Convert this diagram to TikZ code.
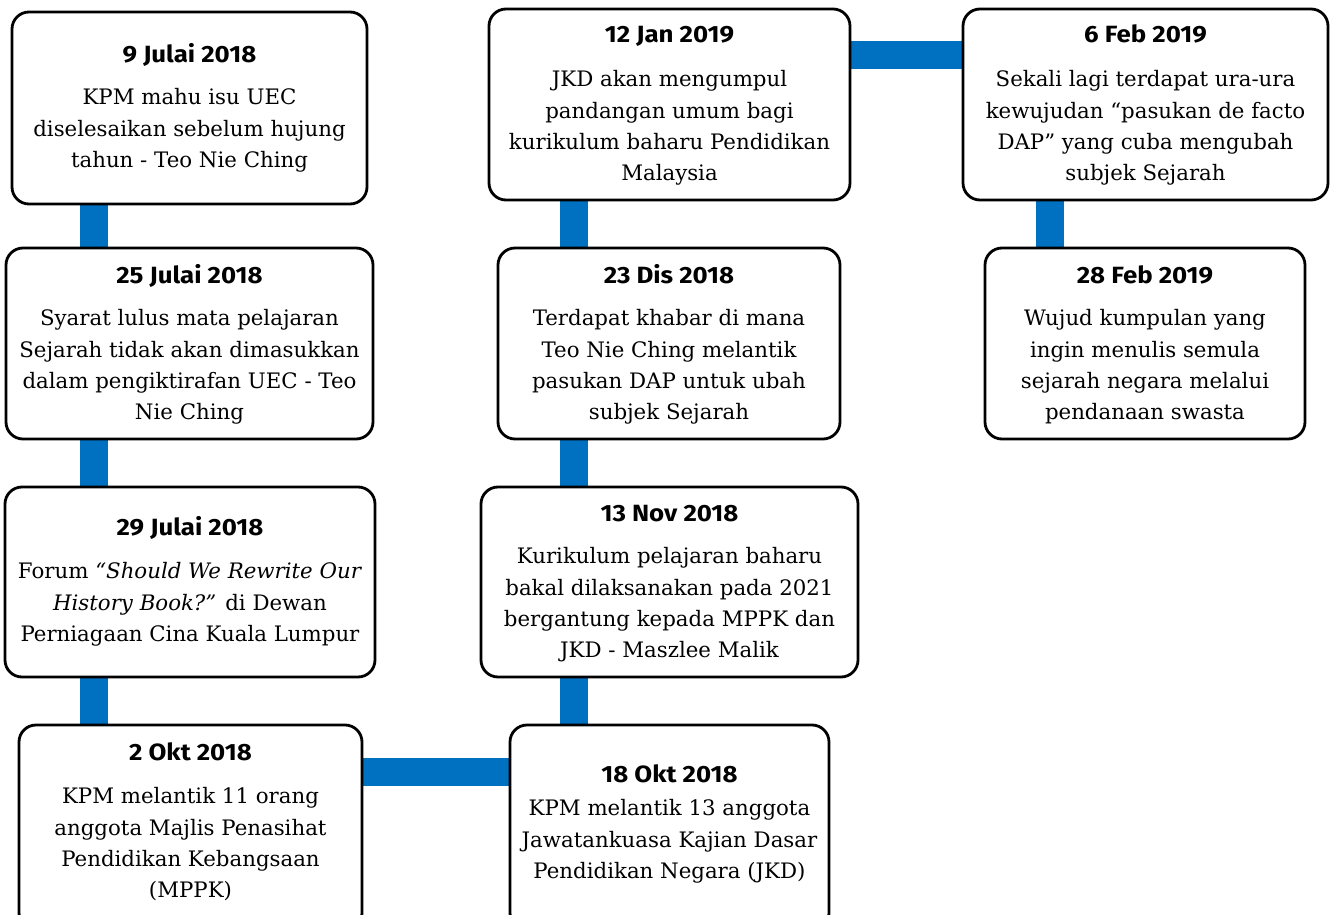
\documentclass[tikz,border=0pt]{standalone}
\usepackage{fontspec}
\setmainfont{DejaVu Serif}
\newfontfamily\titlefont[FakeStretch=1.1]{Fira Sans}
\usetikzlibrary{calc}
\definecolor{connblue}{HTML}{0070C0}
\pgfdeclarelayer{bg}
\pgfsetlayers{bg,main}
\begin{document}
\begin{tikzpicture}[x=1pt,y=-1pt,
  box/.style={draw=black, line width=2.8pt, rounded corners=17pt, fill=white, inner sep=0pt},
  conn/.style={connblue, line width=28pt},
  ttl/.style={font=\titlefont\bfseries\fontsize{23.5}{28}\selectfont, anchor=base, inner sep=0pt},
  bdy/.style={font=\fontsize{21.3}{31.3}\selectfont, align=center, anchor=north, inner sep=0pt}]
\useasboundingbox (0,0) rectangle (1331,915);

% boxes
\node[box, minimum width=355pt, minimum height=192pt] (b1) at (189.5,108) {};
\node[box, minimum width=367pt, minimum height=191pt] (b2) at (189.5,343.5) {};
\node[box, minimum width=370pt, minimum height=190pt] (b3) at (190,582) {};
\node[box, minimum width=343pt, minimum height=205pt] (b4) at (190.5,827.5) {};
\node[box, minimum width=319pt, minimum height=205pt] (b5) at (669.5,827.5) {};
\node[box, minimum width=377pt, minimum height=190pt] (b6) at (669.5,582) {};
\node[box, minimum width=342pt, minimum height=191pt] (b7) at (669,343.5) {};
\node[box, minimum width=361pt, minimum height=191pt] (b8) at (669.5,104.5) {};
\node[box, minimum width=365pt, minimum height=191pt] (b9) at (1145.5,104.5) {};
\node[box, minimum width=320pt, minimum height=191pt] (b10) at (1145,343.5) {};

% connector guides
\coordinate (cL) at (94,0);
\coordinate (cM) at (573.5,0);
\coordinate (cR) at (1050,0);
\coordinate (hA) at (0,772);
\coordinate (hB) at (0,55);

\begin{pgfonlayer}{bg}
\fill[white] (0,0) rectangle (1331,915);
\draw[conn] (b1.south -| cL) -- (b2.north -| cL);
\draw[conn] (b2.south -| cL) -- (b3.north -| cL);
\draw[conn] (b3.south -| cL) -- (b4.north -| cL);
\draw[conn] (b4.east |- hA) -- (b5.west |- hA);
\draw[conn] (b5.north -| cM) -- (b6.south -| cM);
\draw[conn] (b6.north -| cM) -- (b7.south -| cM);
\draw[conn] (b7.north -| cM) -- (b8.south -| cM);
\draw[conn] (b8.east |- hB) -- (b9.west |- hB);
\draw[conn] (b9.south -| cR) -- (b10.north -| cR);
\end{pgfonlayer}

% titles
\node[ttl] (t1) at (189.5,63) {9 Julai 2018};
\node[ttl] (t2) at (189.5,283) {25 Julai 2018};
\node[ttl] (t3) at (190,535) {29 Julai 2018};
\node[ttl] (t4) at (190.5,760) {2 Okt 2018};
\node[ttl] (t5) at (669.5,782) {18 Okt 2018};
\node[ttl] (t6) at (669.5,521) {13 Nov 2018};
\node[ttl] (t7) at (669,283) {23 Dis 2018};
\node[ttl] (t8) at (669.5,43) {12 Jan 2019};
\node[ttl] (t9) at (1145.5,43) {6 Feb 2019};
\node[ttl] (t10) at (1145,283) {28 Feb 2019};

% bodies
\node[bdy] (d1) at (189.5,88.5) {KPM mahu isu UEC\\diselesaikan sebelum hujung\\tahun - Teo Nie Ching};
\node[bdy] (d2) at (189.5,309.5) {Syarat lulus mata pelajaran\\Sejarah tidak akan dimasukkan\\dalam pengiktirafan UEC - Teo\\Nie Ching};
\node[bdy] (d3) at (190,562.5) {Forum \textit{“Should We Rewrite Our}\\\textit{History Book?”}\/ di Dewan\\Perniagaan Cina Kuala Lumpur};
\node[bdy] (d4) at (190.5,787.5) {KPM melantik 11 orang\\anggota Majlis Penasihat\\Pendidikan Kebangsaan\\(MPPK)};
\node[bdy] (d5) at (669.5,799.5) {KPM melantik 13 anggota\\Jawatankuasa Kajian Dasar\\Pendidikan Negara (JKD)};
\node[bdy] (d6) at (669.5,547.5) {Kurikulum pelajaran baharu\\bakal dilaksanakan pada 2021\\bergantung kepada MPPK dan\\JKD - Maszlee Malik};
\node[bdy] (d7) at (669,309.5) {Terdapat khabar di mana\\Teo Nie Ching melantik\\pasukan DAP untuk ubah\\subjek Sejarah};
\node[bdy] (d8) at (669.5,70.5) {JKD akan mengumpul\\pandangan umum bagi\\kurikulum baharu Pendidikan\\Malaysia};
\node[bdy] (d9) at (1145.5,70.5) {Sekali lagi terdapat ura-ura\\kewujudan “pasukan de facto\\DAP” yang cuba mengubah\\subjek Sejarah};
\node[bdy] (d10) at (1145,309.5) {Wujud kumpulan yang\\ingin menulis semula\\sejarah negara melalui\\pendanaan swasta};
\end{tikzpicture}
\end{document}
